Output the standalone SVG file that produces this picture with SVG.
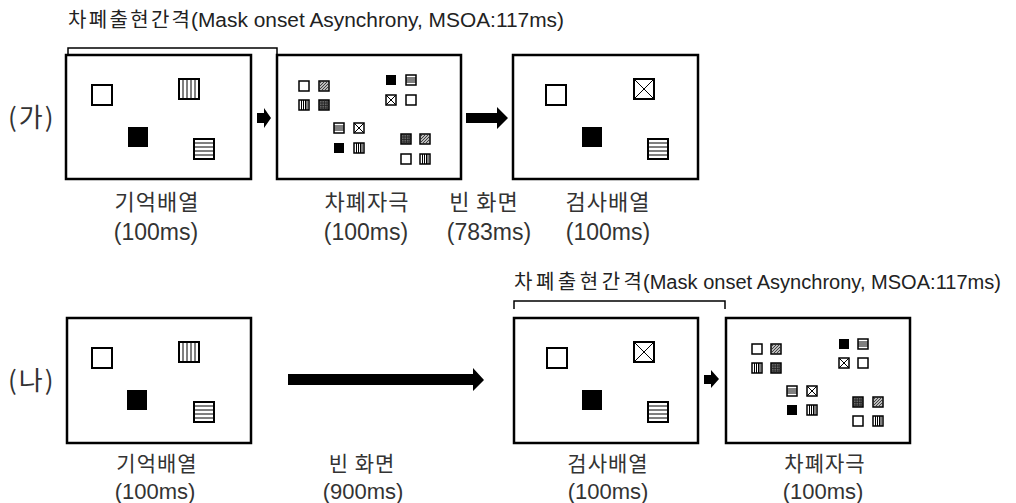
<svg xmlns="http://www.w3.org/2000/svg" xmlns:xlink="http://www.w3.org/1999/xlink" width="1016" height="503" viewBox="0 0 1016 503">
<style>
.panel{fill:#fff;stroke:#000;stroke-width:2.5}
.bk{fill:none;stroke:#000;stroke-width:1.5}
.sq{fill:#fff;stroke:#000;stroke-width:2}
.ss{fill:#fff;stroke:#000;stroke-width:1.5}
.ln{stroke:#000;stroke-width:1;fill:none}
.arrow{fill:#000;stroke:none}
.lbl{font-family:"Noto Sans CJK KR",sans-serif;font-size:22px;text-anchor:middle;fill:#333;letter-spacing:1px}
.ms{font-family:"Liberation Sans","Noto Sans CJK KR",sans-serif;font-size:23px;text-anchor:middle;fill:#333}
.lbl2{font-family:"Noto Sans CJK KR",sans-serif;font-size:21px;text-anchor:middle;fill:#333;letter-spacing:1px}
.ms2{font-family:"Liberation Sans","Noto Sans CJK KR",sans-serif;font-size:22px;text-anchor:middle;fill:#333}
.head{font-family:"Liberation Sans","Noto Sans CJK KR",sans-serif;font-size:20px;fill:#222}
.row{font-family:"Noto Sans CJK KR",sans-serif;font-size:26px;fill:#333;letter-spacing:2px}
</style>
<defs>
<g id="b-empty"><rect class="sq" x="0" y="0" width="20" height="20"/></g>
<g id="b-black"><rect x="0" y="0" width="20" height="20" fill="#000"/></g>
<g id="b-vert"><rect class="sq" x="0" y="0" width="20" height="20"/><path class="ln" d="M4,0V20M8,0V20M12,0V20M16,0V20"/></g>
<g id="b-horiz"><rect class="sq" x="0" y="0" width="20" height="20"/><path class="ln" d="M0,4H20M0,8H20M0,12H20M0,16H20"/></g>
<g id="b-x"><rect class="sq" x="0" y="0" width="20" height="20"/><path class="ln" d="M0,0L20,20M20,0L0,20"/></g>
<g id="s-empty"><rect class="ss" x="0" y="0" width="10" height="10"/></g>
<g id="s-black"><rect x="0" y="0" width="10" height="10" fill="#000"/></g>
<g id="s-vert"><rect class="ss" x="0" y="0" width="10" height="10"/><path class="ln" d="M2.5,0V10M4.5,0V10M6.5,0V10M8,0V10"/></g>
<g id="s-horiz"><rect class="ss" x="0" y="0" width="10" height="10"/><path class="ln" d="M0,3H10M0,5H10M0,7H10"/></g>
<g id="s-x"><rect class="ss" x="0" y="0" width="10" height="10"/><path class="ln" d="M0,0L10,10M10,0L0,10"/></g>
<g id="s-diag"><rect x="0" y="0" width="10" height="10" fill="#bbb" stroke="#000" stroke-width="1.5"/><path d="M0,3L3,0M0,6L6,0M0,9L9,0M2,10L10,2M5,10L10,5M8,10L10,8" stroke="#333" stroke-width="0.9"/></g>
<g id="s-grid"><rect x="0" y="0" width="10" height="10" fill="#666" stroke="#000" stroke-width="1.5"/><path d="M0,3H10M0,5.5H10M0,8H10M3,0V10M5.5,0V10M8,0V10" stroke="#222" stroke-width="0.8"/></g>
</defs>

<g id="headings">
<path class="bk" d="M68,55V48H277V55"/>
<text class="head" y="27"><tspan x="68" textLength="122" lengthAdjust="spacing">차폐출현간격</tspan><tspan x="191" textLength="373" lengthAdjust="spacingAndGlyphs">(Mask onset Asynchrony, MSOA:117ms)</tspan></text>
<path class="bk" d="M514,309V301H725V309"/>
<text class="head" y="289"><tspan x="514" textLength="128" lengthAdjust="spacing">차폐출현간격</tspan><tspan x="643" textLength="358" lengthAdjust="spacingAndGlyphs">(Mask onset Asynchrony, MSOA:117ms)</tspan></text>
<text class="row" x="8" y="127">(가)</text>
<text class="row" x="8" y="390">(나)</text>
</g>

<g id="memory-top">
<rect class="panel" x="66" y="55" width="185" height="124"/>
<use xlink:href="#b-empty" x="92" y="85"/>
<use xlink:href="#b-vert" x="179" y="79"/>
<use xlink:href="#b-black" x="128" y="127"/>
<use xlink:href="#b-horiz" x="194" y="139"/>
<text class="lbl" x="157" y="210">기억배열</text>
<text class="ms" x="156" y="240">(100ms)</text>
</g>

<g id="mask-top">
<rect class="panel" x="277" y="55" width="184" height="124"/>
<use xlink:href="#s-empty" x="299" y="81"/>
<use xlink:href="#s-diag" x="319" y="81"/>
<use xlink:href="#s-vert" x="299" y="100"/>
<use xlink:href="#s-grid" x="319" y="100"/>
<use xlink:href="#s-black" x="386" y="75"/>
<use xlink:href="#s-horiz" x="406" y="75"/>
<use xlink:href="#s-x" x="386" y="95"/>
<use xlink:href="#s-empty" x="406" y="95"/>
<use xlink:href="#s-horiz" x="334" y="123"/>
<use xlink:href="#s-x" x="354" y="123"/>
<use xlink:href="#s-black" x="334" y="143"/>
<use xlink:href="#s-vert" x="354" y="143"/>
<use xlink:href="#s-grid" x="401" y="134"/>
<use xlink:href="#s-diag" x="420" y="134"/>
<use xlink:href="#s-empty" x="401" y="154"/>
<use xlink:href="#s-vert" x="420" y="154"/>
<text class="lbl" x="367" y="210">차폐자극</text>
<text class="ms" x="366" y="240">(100ms)</text>
</g>

<g id="blank-top">
<text class="lbl" x="484" y="210">빈 화면</text>
<text class="ms" x="489" y="240">(783ms)</text>
</g>

<g id="test-top">
<rect class="panel" x="513" y="55" width="185" height="124"/>
<use xlink:href="#b-empty" x="546" y="85"/>
<use xlink:href="#b-x" x="634" y="79"/>
<use xlink:href="#b-black" x="582" y="127"/>
<use xlink:href="#b-horiz" x="648" y="139"/>
<text class="lbl" x="608" y="210">검사배열</text>
<text class="ms" x="608" y="240">(100ms)</text>
</g>

<g id="memory-bottom">
<rect class="panel" x="67" y="318" width="184" height="125"/>
<use xlink:href="#b-empty" x="92" y="348"/>
<use xlink:href="#b-vert" x="179" y="342"/>
<use xlink:href="#b-black" x="127" y="390"/>
<use xlink:href="#b-horiz" x="194" y="402"/>
<text class="lbl2" x="157" y="471">기억배열</text>
<text class="ms2" x="155" y="499">(100ms)</text>
</g>

<g id="blank-bottom">
<text class="lbl2" x="362" y="471">빈 화면</text>
<text class="ms2" x="363" y="499">(900ms)</text>
</g>

<g id="test-bottom">
<rect class="panel" x="514" y="318" width="184" height="125"/>
<use xlink:href="#b-empty" x="547" y="348"/>
<use xlink:href="#b-x" x="634" y="342"/>
<use xlink:href="#b-black" x="582" y="390"/>
<use xlink:href="#b-horiz" x="648" y="402"/>
<text class="lbl2" x="608" y="471">검사배열</text>
<text class="ms2" x="608" y="499">(100ms)</text>
</g>

<g id="mask-bottom">
<rect class="panel" x="726" y="318" width="184" height="125"/>
<use xlink:href="#s-empty" x="752" y="344"/>
<use xlink:href="#s-diag" x="771" y="344"/>
<use xlink:href="#s-vert" x="752" y="363"/>
<use xlink:href="#s-grid" x="771" y="363"/>
<use xlink:href="#s-black" x="839" y="339"/>
<use xlink:href="#s-horiz" x="858" y="339"/>
<use xlink:href="#s-x" x="839" y="358"/>
<use xlink:href="#s-empty" x="858" y="358"/>
<use xlink:href="#s-horiz" x="787" y="386"/>
<use xlink:href="#s-x" x="807" y="386"/>
<use xlink:href="#s-black" x="787" y="405"/>
<use xlink:href="#s-vert" x="807" y="405"/>
<use xlink:href="#s-grid" x="853" y="397"/>
<use xlink:href="#s-diag" x="873" y="397"/>
<use xlink:href="#s-empty" x="853" y="416"/>
<use xlink:href="#s-vert" x="873" y="416"/>
<text class="lbl2" x="825" y="471">차폐자극</text>
<text class="ms2" x="823" y="499">(100ms)</text>
</g>

<g id="connectors">
<polygon class="arrow" points="257,113 264,113 264,108 271,118 264,128 264,123 257,123"/>
<polygon class="arrow" points="466,113 497,113 497,107 508,118 497,129 497,123 466,123"/>
<polygon class="arrow" points="288,374 473,374 473,368 484,380 473,391 473,385 288,385"/>
<polygon class="arrow" points="704,375 711,375 711,370 719,379 711,388 711,384 704,384"/>
</g>
</svg>
